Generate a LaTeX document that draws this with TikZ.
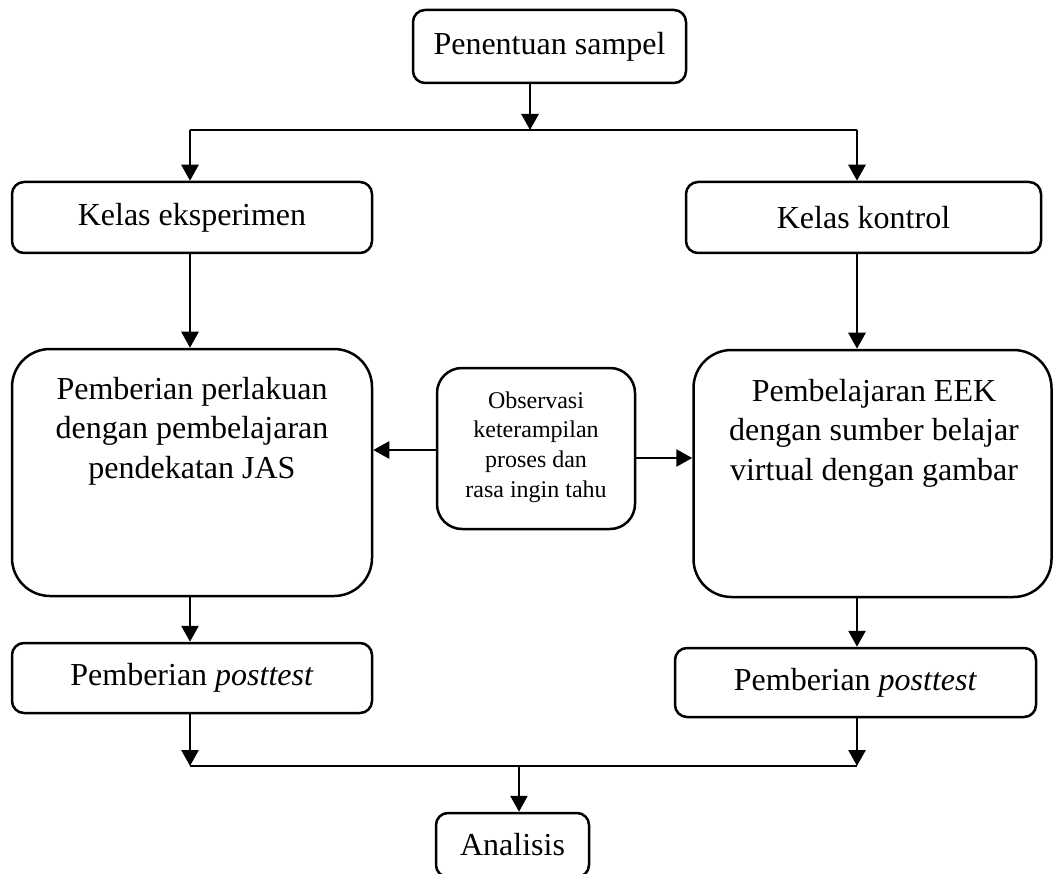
\documentclass[tikz,border=0pt]{standalone}
\usepackage{fontspec}
\setmainfont{Liberation Serif}
\usetikzlibrary{arrows.meta}
\begin{document}
\begin{tikzpicture}[x=1pt,y=-1pt,
  box/.style={draw,line width=2.5pt,rounded corners=12pt,inner sep=0pt,
    font=\fontsize{32}{39}\selectfont},
  bigbox/.style={box,rounded corners=38pt},
  obsbox/.style={box,rounded corners=25pt},
  txt/.style={inner sep=0pt,align=center,font=\fontsize{32}{39.5}\selectfont},
  smalltxt/.style={inner sep=0pt,align=center,font=\fontsize{24}{29.7}\selectfont},
  ln/.style={line width=2.7pt},
  arr/.style={line width=2.7pt,-{Triangle[length=16pt,width=17pt]}}]
\clip (0,0) rectangle (1054,874);
\fill[white] (0,0) rectangle (1054,874);
% boxes
\node[box,minimum width=273pt,minimum height=73pt] (pen) at (549.5,46.5) {Penentuan sampel};
\node[box,minimum width=360pt,minimum height=71pt] (ke) at (192,217.5) {Kelas eksperimen};
\node[box,minimum width=355pt,minimum height=71pt] (kk) at (863.5,217.5) {Kelas kontrol};
\node[bigbox,minimum width=360pt,minimum height=247pt] (bl) at (192,472.5) {};
\node[bigbox,minimum width=358pt,minimum height=247pt] (br) at (872.5,473.5) {};
\node[obsbox,minimum width=198pt,minimum height=161pt] (obs) at (536,448.5) {};
\node[box,minimum width=360pt,minimum height=70pt] (pl) at (192,678) {Pemberian \textit{posttest}};
\node[box,minimum width=361pt,minimum height=69pt] (pr) at (855.5,682.5) {Pemberian \textit{posttest}};
\node[box,minimum width=153pt,minimum height=64pt] (an) at (512.5,845) {Analisis};
% texts
\node[txt] (tl) at (192,431) {Pemberian perlakuan\\dengan pembelajaran\\pendekatan JAS};
\node[txt] (tr) at (874,433) {Pembelajaran EEK\\dengan sumber belajar\\virtual dengan gambar};
\node[smalltxt] (to) at (536,447) {Observasi\\keterampilan\\proses dan\\rasa ingin tahu};
% junctions
\coordinate (jt) at (530,130);
\coordinate (jtl) at (190,130);
\coordinate (jtr) at (857,130);
\coordinate (jb) at (519,766);
\coordinate (jbl) at (190,766);
\coordinate (jbr) at (857,766);
% connectors
\draw[arr] (pen.south -| jt) -- (jt);
\draw[ln] (jtl) -- (jtr);
\draw[arr] (jtl) -- (ke.north -| jtl);
\draw[arr] (jtr) -- (kk.north -| jtr);
\draw[arr] (ke.south -| jtl) -- (bl.north -| jtl);
\draw[arr] (kk.south -| jtr) -- (br.north -| jtr);
\draw[arr] (obs.west |- 0,450) -- (bl.east |- 0,450);
\draw[arr] (obs.east |- 0,458) -- (br.west |- 0,458);
\draw[arr] (bl.south -| jtl) -- (pl.north -| jtl);
\draw[arr] (br.south -| jtr) -- (pr.north -| jtr);
\draw[arr] (pl.south -| jbl) -- (jbl);
\draw[arr] (pr.south -| jbr) -- (jbr);
\draw[ln] (jbl) -- (jbr);
\draw[arr] (jb) -- (an.north -| jb);
\end{tikzpicture}
\end{document}
